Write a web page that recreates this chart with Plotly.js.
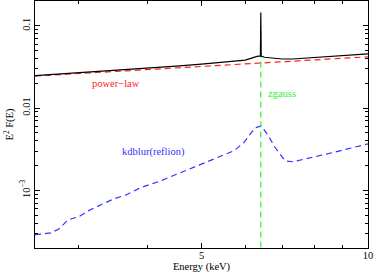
<!DOCTYPE html>
<html><head><meta charset="utf-8">
<script src="https://cdn.plot.ly/plotly-3.0.1.min.js"></script>
<style>body{margin:0;background:#fff}#c{width:381px;height:274px}</style>
</head><body><div id="c"></div>
<script>
// Power-law component (keV, E^2 F(E))
const plE = [2.5, 3, 4, 5, 6, 7, 8, 9, 10];
const plV = [0.0245, 0.0263, 0.0294, 0.0321, 0.0344, 0.0366, 0.0385, 0.0403, 0.0420];
// Blurred reflection component
const rfE = [2.5, 2.67, 2.76, 2.87, 3.0, 3.12, 3.29, 3.47, 3.65, 3.88, 4.22, 4.58, 4.98, 5.41, 5.72, 5.96, 6.25, 6.41, 6.57, 6.80, 7.08, 7.32, 7.76, 8.29, 8.90, 9.55, 10];
const rfV = [2.9e-4, 3.05e-4, 3.4e-4, 4.4e-4, 4.8e-4, 5.65e-4, 6.7e-4, 7.9e-4, 8.8e-4, 1.08e-3, 1.31e-3, 1.64e-3, 2.11e-3, 2.63e-3, 3.03e-3, 3.79e-3, 5.76e-3, 6.09e-3, 4.87e-3, 3.30e-3, 2.29e-3, 2.23e-3, 2.42e-3, 2.71e-3, 3.03e-3, 3.39e-3, 3.68e-3];
// Narrow Gaussian line
const gsE = [6.4, 6.4];
const gsV = [1e-6, 0.1];
// Total model
const totE = [2.5, 3, 3.5, 4, 4.5, 5, 5.5, 6, 6.3, 6.39, 6.4, 6.41, 6.5, 7, 7.3, 8, 9, 10];
const totV = [0.0248, 0.0268, 0.0287, 0.0306, 0.0323, 0.0342, 0.0361, 0.0383, 0.0425, 0.043, 0.145, 0.043, 0.0415, 0.0395, 0.0395, 0.041, 0.0434, 0.0457];
// Axis ticks
const xTickVals = [5, 10];
const xTickText = ['5', '10'];
const xMinor = [3, 4, 6, 7, 8, 9];
const yTickVals = [0.001, 0.01, 0.1];
const yTickText = ['10<sup>−3</sup>', '0.01', '0.1'];
const yMinor = [3e-4,4e-4,5e-4,6e-4,7e-4,8e-4,9e-4,2e-3,3e-3,4e-3,5e-3,6e-3,7e-3,8e-3,9e-3,0.02,0.03,0.04,0.05,0.06,0.07,0.08,0.09,0.2];
const labels = [
  {text: 'power−law', x: 3.5, y: 0.0197, color: '#ff2020', xanchor: 'center'},
  {text: 'zgauss', x: 6.55, y: 0.0149, color: '#33ee33', xanchor: 'left'},
  {text: 'kdblur(reflion)', x: 4.1, y: 0.00295, color: '#3333ff', xanchor: 'center'}
];

const F = 'Liberation Serif, Times New Roman, serif';
const dash = '6px,4px';
const traces = [
  {x: rfE, y: rfV, mode: 'lines', line: {color: '#3333ff', width: 1.2, dash: dash}},
  {x: gsE, y: gsV, mode: 'lines', line: {color: '#33ee33', width: 1.2, dash: dash}},
  {x: plE, y: plV, mode: 'lines', line: {color: '#ff2020', width: 1.2, dash: dash}},
  {x: totE, y: totV, mode: 'lines', line: {color: '#000000', width: 1.2}}
];
const axBase = {
  showline: true, mirror: 'ticks', linecolor: '#000', linewidth: 1,
  ticks: 'inside', ticklen: 5, tickcolor: '#000', tickwidth: 1,
  showgrid: false, zeroline: false, tickfont: {family: F, size: 10.5, color: '#000'},
  type: 'log', tickmode: 'array'
};
const layout = {
  width: 381, height: 274,
  margin: {l: 35, r: 13, t: 1, b: 26},
  paper_bgcolor: '#fff', plot_bgcolor: '#fff',
  showlegend: false,
  font: {family: F, size: 10.5, color: '#000'},
  xaxis: Object.assign({}, axBase, {
    range: [Math.log10(2.5), 1], tickvals: xTickVals, ticktext: xTickText,
    ticklabelstandoff: -3,
    minor: {tickmode: 'array', tickvals: xMinor, ticks: 'inside', ticklen: 3, tickcolor: '#000'},
    title: {text: 'Energy (keV)', font: {family: F, size: 10.5}, standoff: 0}
  }),
  yaxis: Object.assign({}, axBase, {
    range: [Math.log10(2e-4), Math.log10(0.2)], tickvals: yTickVals, ticktext: yTickText,
    tickangle: -90,
    minor: {tickmode: 'array', tickvals: yMinor, ticks: 'inside', ticklen: 3, tickcolor: '#000'},
    title: {text: 'E<sup>2</sup> F(E)', font: {family: F, size: 10.5}, standoff: 2}
  }),
  annotations: labels.map(l => ({
    text: l.text, x: Math.log10(l.x), y: Math.log10(l.y), xref: 'x', yref: 'y',
    showarrow: false, xanchor: l.xanchor, yanchor: 'middle',
    font: {family: F, size: 10.5, color: l.color}
  }))
};
Plotly.newPlot('c', traces, layout, {staticPlot: true, displayModeBar: false});
</script></body></html>
